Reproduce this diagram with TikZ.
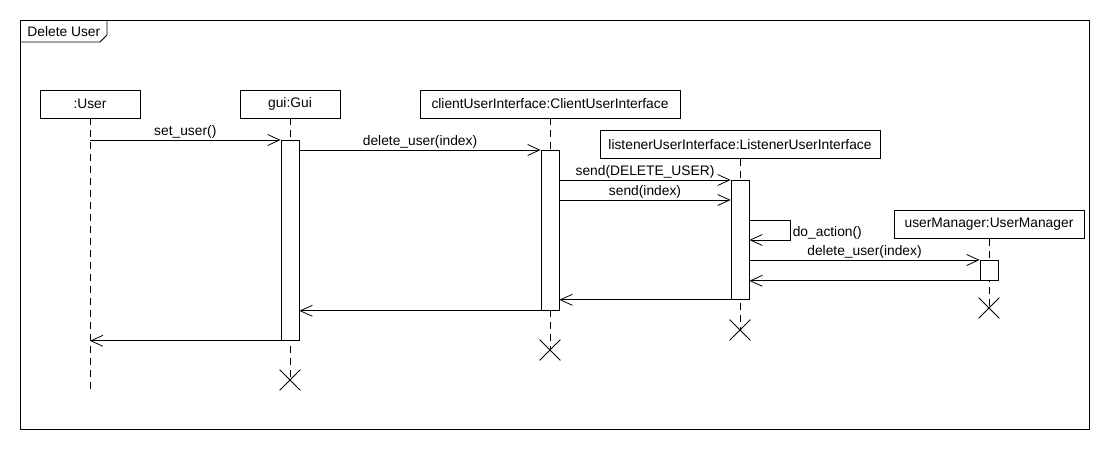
\documentclass[tikz,border=0pt]{standalone}
\usepackage{fontspec}
\setmainfont{Liberation Sans}
\usetikzlibrary{arrows.meta,shapes.misc}

\begin{document}
\begin{tikzpicture}[x=1pt,y=-1pt,line width=0.8pt,font=\fontsize{13.8}{16}\selectfont,
  head/.style={draw,minimum height=28pt,inner sep=2pt},
  act/.style={draw,fill=white,minimum width=18pt,inner sep=0pt,anchor=north},
  life/.style={dash pattern=on 7pt off 5pt},
  msg/.style={-{Straight Barb[length=12pt,width=11pt]}},
  kill/.style={draw,cross out,minimum size=20pt,inner sep=0pt},
  lbl/.style={above,inner sep=1.5pt}]
\useasboundingbox (0,0) rectangle (1110,450);
\draw (20,20) rectangle (1089,429);
\draw (20,42) -- (100,42) -- (107,35) -- (107,20);
\node[anchor=west,inner sep=0pt] (title) at (27,32) {Delete User};
\node[head,minimum width=100pt] (user) at (90,104) {:User};
\node[head,minimum width=100pt] (gui) at (290,104) {gui:Gui};
\node[head,minimum width=260pt] (client) at (550,104) {clientUserInterface:ClientUserInterface};
\node[head,minimum width=280pt] (listener) at (740,144.5) {listenerUserInterface:ListenerUserInterface};
\node[head,minimum width=190pt] (mgr) at (989,224.5) {userManager:UserManager};
\coordinate (userend) at (90,390);
\node[kill] (guiend) at (290,380) {};
\node[kill] (clientend) at (550,350) {};
\node[kill] (listenerend) at (740,330) {};
\node[kill] (mgrend) at (989,308) {};
\draw[life] (user.south) -- (userend);
\draw[life] (gui.south) -- (guiend.center);
\draw[life] (client.south) -- (clientend.center);
\draw[life] (listener.south) -- (listenerend.center);
\draw[life] (mgr.south) -- (mgrend.center);
\node[act,minimum height=200pt] (guiact) at (290,140) {};
\node[act,minimum height=160pt] (clientact) at (550,150) {};
\node[act,minimum height=119pt] (listeneract) at (740,180) {};
\node[act,minimum height=20pt] (mgract) at (989,260) {};
\draw[msg] (user.south |- guiact.north) -- (guiact.north west) node[midway,lbl] {set\_user()};
\draw[msg] (guiact.east |- clientact.north) -- (clientact.north west) node[midway,lbl] {delete\_user(index)};
\draw[msg] (clientact.east |- listeneract.north) -- (listeneract.north west) node[midway,lbl] {send(DELETE\_USER)};
\coordinate (sendidx) at ([yshift=-20pt]listeneract.north west);
\draw[msg] (clientact.east |- sendidx) -- (sendidx) node[midway,lbl] {send(index)};
\draw[msg] ([yshift=-40pt]listeneract.north east) -- ++(41,0) -- ++(0,20) node[midway,right,inner sep=2pt,yshift=-3pt] {do\_action()} -- ++(-41,0);
\draw[msg] (listeneract.east |- mgract.north) -- (mgract.north west) node[midway,lbl] {delete\_user(index)};
\draw[msg] (mgract.south west) -- (listeneract.east |- mgract.south);
\draw[msg] (listeneract.south west) -- (clientact.east |- listeneract.south);
\draw[msg] (clientact.south west) -- (guiact.east |- clientact.south);
\draw[msg] (guiact.south west) -- (user.south |- guiact.south);
\end{tikzpicture}
\end{document}
